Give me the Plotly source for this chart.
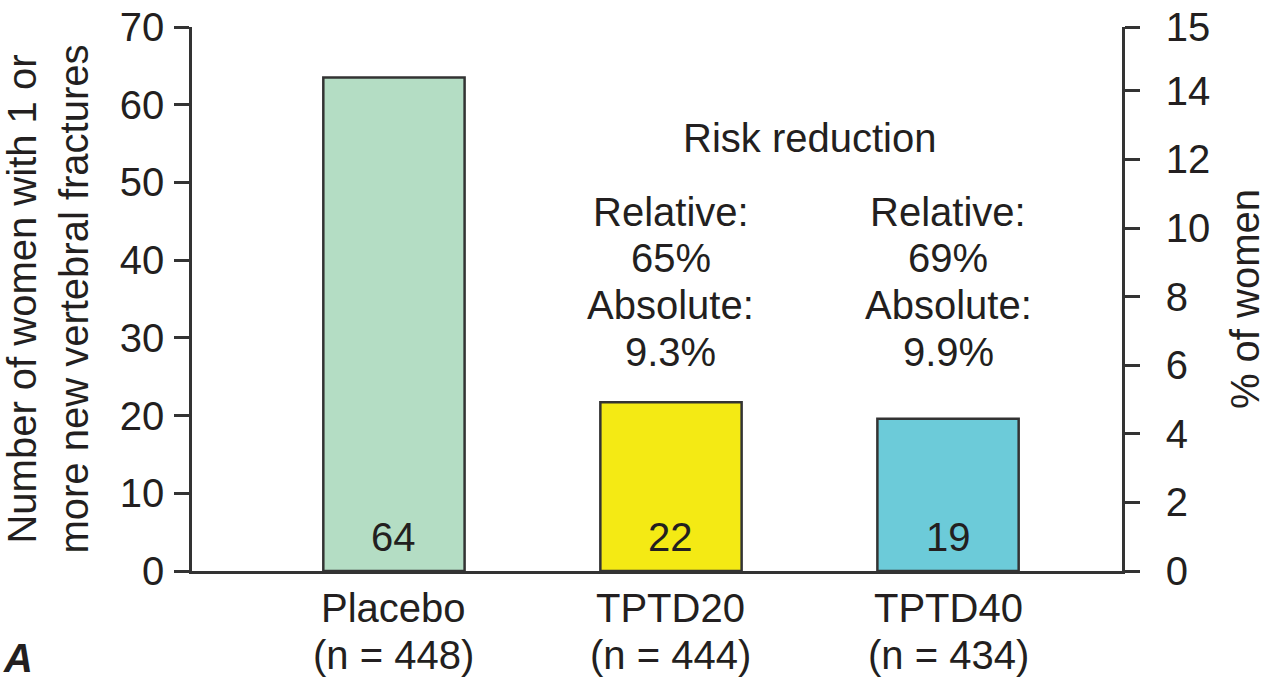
import plotly.graph_objects as go

categories = ["Placebo", "TPTD20", "TPTD40"]
group_sizes = ["(n = 448)", "(n = 444)", "(n = 434)"]
bar_heights = [63.5, 21.7, 19.6]
bar_labels = ["64", "22", "19"]
bar_colors = ["#b4ddc4", "#f4ea14", "#6ccbd9"]
left_ticks = [0, 10, 20, 30, 40, 50, 60, 70]
right_ticks = [0, 2, 4, 6, 8, 10, 12, 14, 15.86]
right_ticktext = ["0", "2", "4", "6", "8", "10", "12", "14", "15"]
risk_title = "Risk reduction"
risk_text = [
    ["Relative:", "65%", "Absolute:", "9.3%"],
    ["Relative:", "69%", "Absolute:", "9.9%"],
]

FONT = "Liberation Sans, Arial, sans-serif"
TXT = "#231f20"
FS = 40

fig = go.Figure()
fig.add_trace(go.Bar(
    x=categories, y=bar_heights, width=0.51,
    marker=dict(color=bar_colors, line=dict(color="#333333", width=2.5)),
    showlegend=False, hoverinfo="skip",
))
fig.add_trace(go.Scatter(x=[categories[0]], y=[0], yaxis="y2", mode="markers",
                         marker=dict(opacity=0), showlegend=False, hoverinfo="skip"))

f = dict(size=FS, color=TXT, family=FONT)
ann = []
for c, lab, n in zip(categories, bar_labels, group_sizes):
    ann.append(dict(x=c, y=0, xref="x", yref="y", text=lab, showarrow=False,
                    yanchor="bottom", yshift=10, font=f))
    ann.append(dict(x=c, y=0, xref="x", yref="paper", text=c, showarrow=False,
                    yanchor="middle", yshift=-37, font=f))
    ann.append(dict(x=c, y=0, xref="x", yref="paper", text=n, showarrow=False,
                    yanchor="middle", yshift=-84, font=f))
ann.append(dict(x=1.5, y=55.7, xref="x", yref="y", text=risk_title, showarrow=False, font=f))
line_y = [46.2, 40.3, 34.2, 28.2]
for c, lines in zip(categories[1:], risk_text):
    for yy, t in zip(line_y, lines):
        ann.append(dict(x=c, y=yy, xref="x", yref="y", text=t, showarrow=False,
                        yanchor="middle", font=f))
ann.append(dict(x=0, y=0, xref="paper", yref="paper", xanchor="left", yanchor="middle",
                text="<b><i>A</i></b>", showarrow=False, xshift=-191, yshift=-87, font=f))

fig.update_layout(
    width=1275, height=693,
    margin=dict(l=192, r=153, t=27, b=122),
    plot_bgcolor="white", paper_bgcolor="white",
    font=f,
    annotations=ann,
    xaxis=dict(type="category", range=[-0.729, 2.628], showline=True, linecolor="#333333",
               linewidth=2.5, ticks="", showgrid=False, zeroline=False,
               showticklabels=False, automargin=False),
    yaxis=dict(range=[0, 70], tickvals=left_ticks, showline=True, linecolor="#333333",
               linewidth=2.5, ticks="outside", ticklen=15, tickwidth=2.5, tickcolor="#333333",
               showgrid=False, zeroline=False, ticklabelstandoff=2, automargin=False,
               title=dict(text="Number of women with 1 or<br>more new vertebral fractures",
                          font=f, standoff=26),
               tickfont=f),
    yaxis2=dict(range=[0, 15.86], tickvals=right_ticks, ticktext=right_ticktext,
                overlaying="y", side="right",
                showline=True, linecolor="#333333", linewidth=2.5, ticks="outside",
                ticklen=15, tickwidth=2.5, tickcolor="#333333", showgrid=False,
                zeroline=False, ticklabelstandoff=18, automargin=False,
                title=dict(text="% of women", font=f, standoff=22),
                tickfont=f),
)

fig.write_html("out.html")
